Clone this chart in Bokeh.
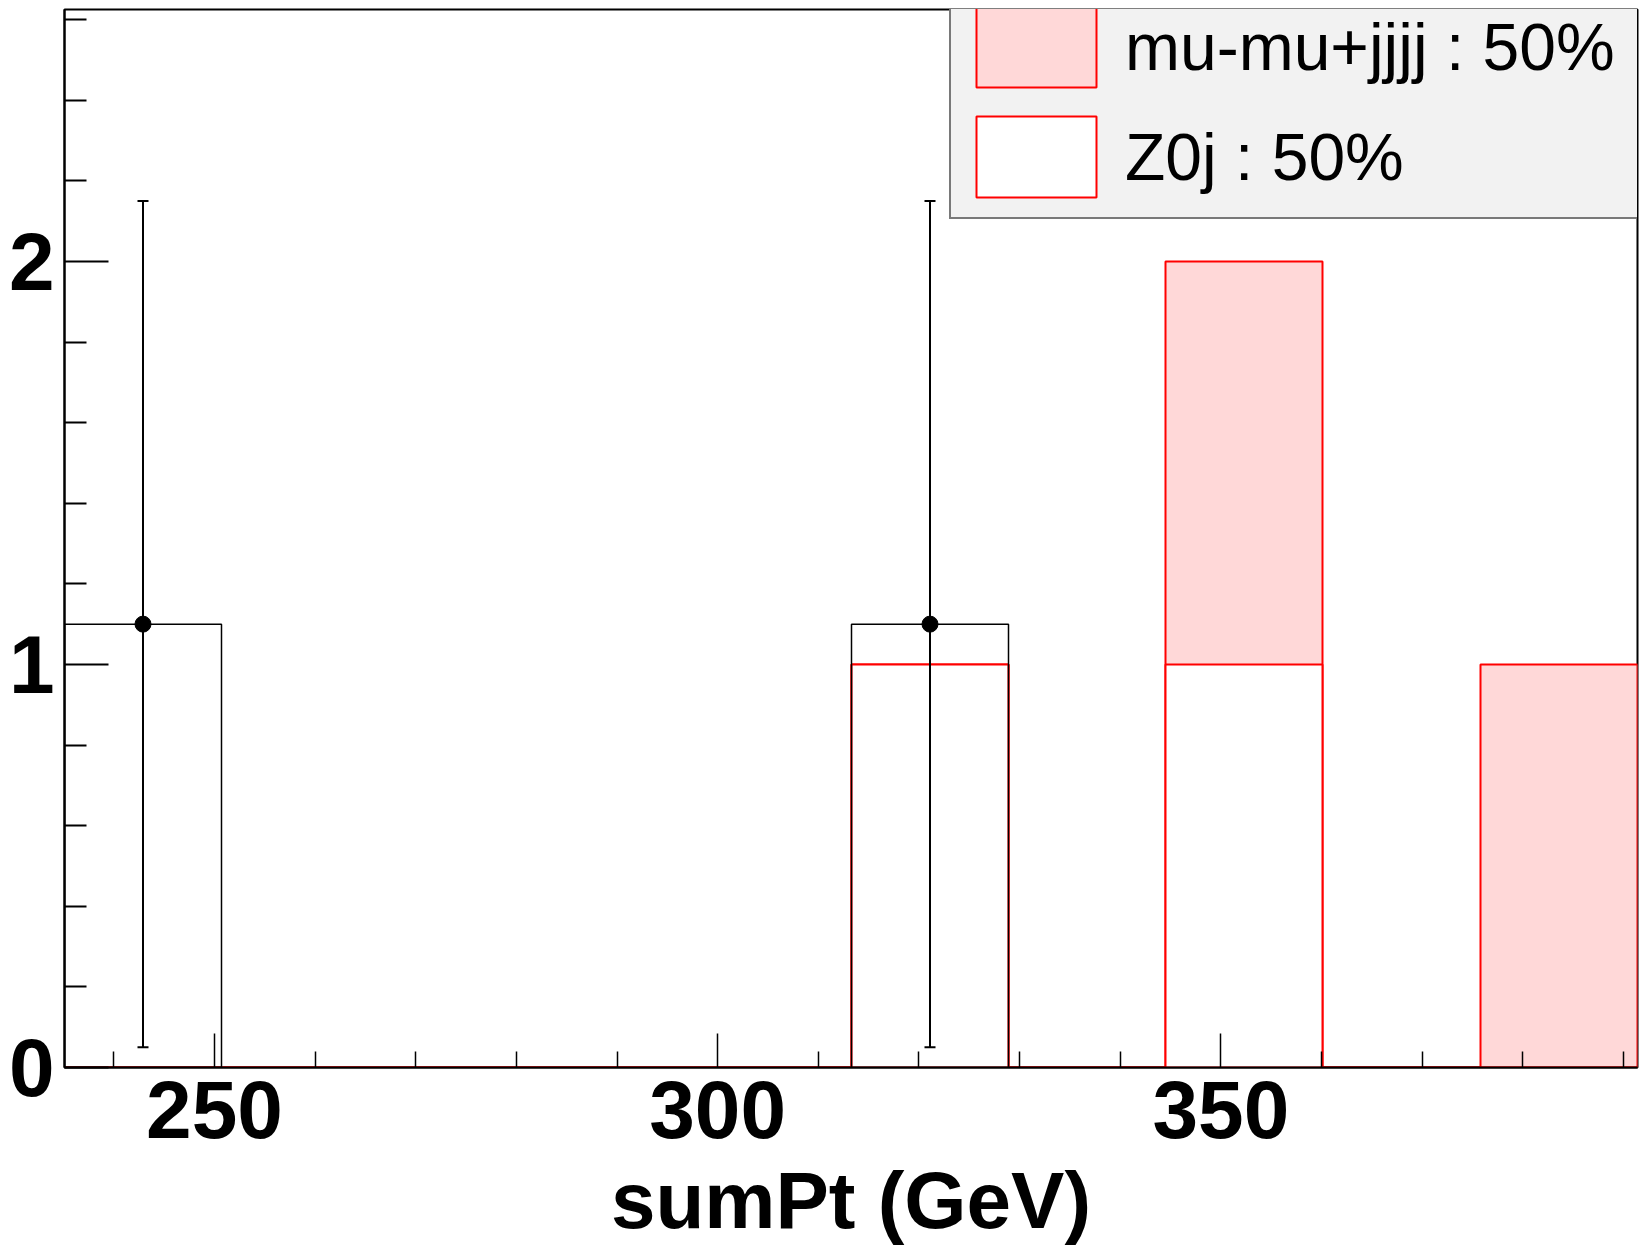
import numpy as np
from bokeh.plotting import figure
from bokeh.models import (ColumnDataSource, FixedTicker, Legend, LegendItem,
                          Whisker, TeeHead, Range1d)
from bokeh.embed import file_html
from bokeh.resources import INLINE

# ---------------- data ----------------
bin_edges = [235.1, 250.7, 266.4, 282.0, 297.6, 313.3, 328.9, 344.5, 360.1, 375.8, 391.4]
z0j_counts = [0, 0, 0, 0, 0, 1, 0, 1, 0, 0]
mumu_counts = [0, 0, 0, 0, 0, 0, 0, 1, 0, 1]
data_counts = [1.1, 0, 0, 0, 0, 1.1, 0, 0, 0, 0]
data_err = [1.05, 0, 0, 0, 0, 1.05, 0, 0, 0, 0]

legend_labels = ["mu-mu+jjjj : 50%", "Z0j : 50%"]
x_title = "sumPt (GeV)"
x_major = [250, 300, 350]
x_minor = [240, 260, 270, 280, 290, 310, 320, 330, 340, 360, 370, 380, 390]
y_major = [0, 1, 2]
y_minor = [0.2, 0.4, 0.6, 0.8, 1.2, 1.4, 1.6, 1.8, 2.2, 2.4, 2.6]

# ---------------- derived ----------------
edges = np.array(bin_edges)
left, right = edges[:-1], edges[1:]
centers = (left + right) / 2
z0j = np.array(z0j_counts, dtype=float)
mumu = np.array(mumu_counts, dtype=float)
total = z0j + mumu
dat = np.array(data_counts, dtype=float)
err = np.array(data_err, dtype=float)

PINK = "#ffd8d8"
RED = "#ff0000"

p = figure(width=1645, height=1251, output_backend="svg", toolbar_location=None,
           x_range=Range1d(bin_edges[0], bin_edges[-1]), y_range=Range1d(0, 2.625),
           min_border_left=64, min_border_right=8, min_border_top=9, min_border_bottom=184)
p.background_fill_color = "white"
p.border_fill_color = "white"
p.outline_line_color = "black"
p.outline_line_width = 2
p.xgrid.visible = False
p.ygrid.visible = False

# stacked histograms (top of stack first, then lower component over it)
r_mu = p.quad(left=left, right=right, bottom=0, top=total,
              fill_color=PINK, line_color=RED, line_width=2)
r_z = p.quad(left=left, right=right, bottom=0, top=z0j,
             fill_color="white", line_color=RED, line_width=2)

# data histogram outline
nz = dat > 0
p.quad(left=left[nz], right=right[nz], bottom=0, top=dat[nz],
       fill_color=None, line_color="black", line_width=1.5)

# data points with error bars
src = ColumnDataSource(dict(x=centers[nz], y=dat[nz],
                            lo=dat[nz] - err[nz], hi=dat[nz] + err[nz]))
wh = Whisker(base="x", lower="lo", upper="hi", source=src, dimension="height",
             line_color="black", line_width=2,
             upper_head=TeeHead(size=11, line_width=2, line_color="black"),
             lower_head=TeeHead(size=11, line_width=2, line_color="black"),
             level="glyph")
p.add_layout(wh)
p.scatter("x", "y", source=src, size=16, color="black", marker="circle")

# axes
xa = p.xaxis[0]
xa.ticker = FixedTicker(ticks=x_major, minor_ticks=x_minor)
xa.major_tick_in = 34
xa.major_tick_out = 0
xa.minor_tick_in = 16
xa.minor_tick_out = 0
xa.major_tick_line_width = 1.5
xa.minor_tick_line_width = 1.5
xa.axis_line_width = 2
xa.major_label_text_font = "Liberation Sans"
xa.major_label_text_font_style = "bold"
xa.major_label_text_font_size = "82px"
xa.major_label_text_color = "black"
xa.major_label_standoff = 13
xa.axis_label = x_title
xa.axis_label_text_font = "Liberation Sans"
xa.axis_label_text_font_style = "bold"
xa.axis_label_text_font_size = "80px"
xa.axis_label_text_color = "black"
xa.axis_label_standoff = 15

ya = p.yaxis[0]
ya.ticker = FixedTicker(ticks=y_major, minor_ticks=y_minor)
ya.major_tick_in = 44
ya.major_tick_out = 0
ya.minor_tick_in = 22
ya.minor_tick_out = 0
ya.major_tick_line_width = 2
ya.minor_tick_line_width = 2
ya.axis_line_width = 2
ya.major_label_text_font = "Liberation Sans"
ya.major_label_text_font_style = "bold"
ya.major_label_text_font_size = "82px"
ya.major_label_text_color = "black"
ya.major_label_standoff = 10

legend = Legend(items=[LegendItem(label=legend_labels[0], renderers=[r_mu]),
                       LegendItem(label=legend_labels[1], renderers=[r_z])],
                location=(885, 848), orientation="vertical",
                padding=10, spacing=9, margin=0,
                glyph_width=150, glyph_height=101, label_height=101,
                label_standoff=14, label_width=504,
                label_text_font="Liberation Sans", label_text_font_size="66px",
                label_text_color="black", label_text_baseline="middle",
                border_line_color="black", border_line_width=2,
                background_fill_color="#f2f2f2", background_fill_alpha=1.0)
p.add_layout(legend, "center")

open("out.html", "w").write(file_html(p, INLINE))
